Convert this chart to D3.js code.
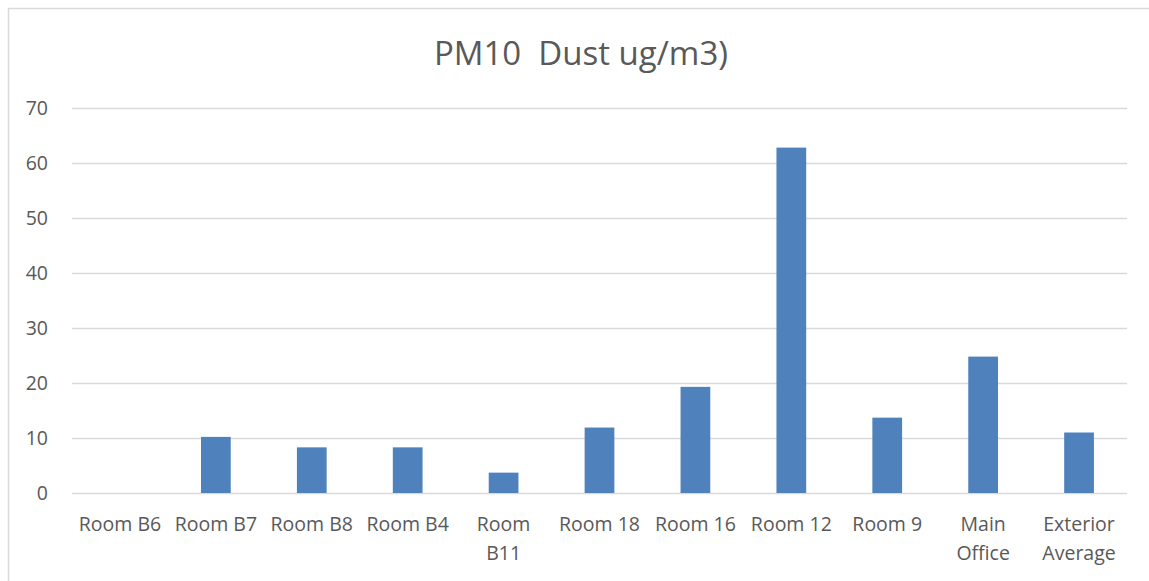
<!DOCTYPE html>
<html><head><meta charset="utf-8">
<script src="https://cdn.jsdelivr.net/npm/d3@7"></script>
<style>
html,body{margin:0;padding:0;background:#fff;}
svg{display:block;}
text{white-space:pre;}
</style></head>
<body>
<svg id="chart" width="1149" height="581"></svg>
<script>
const title = "PM10  Dust ug/m3)";
const categories = ["Room B6","Room B7","Room B8","Room B4","Room B11","Room 18","Room 16","Room 12","Room 9","Main Office","Exterior Average"];
const tickLabels = [["Room B6"],["Room B7"],["Room B8"],["Room B4"],["Room","B11"],["Room 18"],["Room 16"],["Room 12"],["Room 9"],["Main","Office"],["Exterior","Average"]];
const values = [0, 10.2, 8.3, 8.3, 3.7, 11.9, 19.3, 62.8, 13.7, 24.8, 11.0];
const yTicks = [0,10,20,30,40,50,60,70];

const svg = d3.select("#chart");
const font = "'Open Sans', 'Noto Sans', sans-serif";
const m = {left:72, right:1127, top:108, bottom:493};

// chart border
svg.append("rect").attr("x",8.5).attr("y",8.5).attr("width",1160).attr("height",600)
  .attr("fill","none").attr("stroke","#d9d9d9").attr("stroke-width",1.5);

const x = d3.scaleBand().domain(categories).range([m.left,m.right]).paddingInner(0.69).paddingOuter(0.345);
const y = d3.scaleLinear().domain([0,70]).range([m.bottom,m.top]);

// gridlines
const yAxis = d3.axisLeft(y).tickValues(yTicks).tickSize(-(m.right-m.left)).tickPadding(24);
const gy = svg.append("g").attr("transform",`translate(${m.left},0)`).call(yAxis);
gy.select(".domain").remove();
gy.selectAll(".tick line").attr("stroke","#d9d9d9").attr("stroke-width",1.3);
gy.selectAll(".tick text").attr("fill","#595959").style("font-family",font).style("font-size","19.5px");

// bars
svg.append("g").selectAll("rect").data(values).join("rect")
  .attr("x",(d,i)=>x(categories[i]))
  .attr("y",d=>y(d))
  .attr("width",x.bandwidth())
  .attr("height",d=>y(0)-y(d))
  .attr("fill","#4f81bd");

// x axis labels
const xAxis = d3.axisBottom(x).tickSize(0).tickFormat("");
const gx = svg.append("g").attr("transform",`translate(0,${m.bottom})`).call(xAxis);
gx.select(".domain").remove();
gx.selectAll(".tick").each(function(d,i){
  const t = d3.select(this).append("text").attr("fill","#595959").attr("text-anchor","middle")
    .style("font-family",font).style("font-size","19.5px");
  tickLabels[i].forEach((line,j)=>{
    t.append("tspan").attr("x",0).attr("y",38+j*29).text(line);
  });
});

// title
svg.append("text").attr("x",581).attr("y",65).attr("text-anchor","middle")
  .attr("fill","#595959").style("font-family",font).style("font-size","33px").text(title);
</script>
</body></html>
